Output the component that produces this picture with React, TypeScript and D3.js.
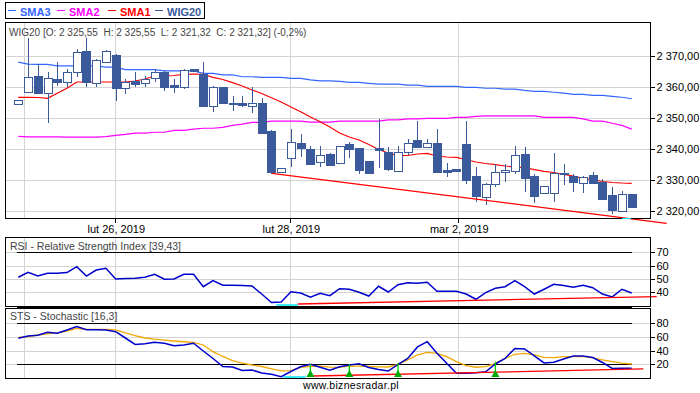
import React from 'react';
import * as d3 from 'd3';

// ---- data ----
const opens = [2354.4, 2358.5, 2363.5, 2358.0, 2362.6, 2361.7, 2364.9, 2371.6, 2361.2, 2368.2, 2370.3, 2359.8, 2362.0, 2361.4, 2362.8, 2364.9, 2360.6, 2360.1, 2365.8, 2364.2, 2354.0, 2359.9, 2354.9, 2354.7, 2353.9, 2354.7, 2345.9, 2332.7, 2337.0, 2341.8, 2340.0, 2335.7, 2338.3, 2335.4, 2341.6, 2340.2, 2336.1, 2340.4, 2338.9, 2333.0, 2339.1, 2342.9, 2340.7, 2342.0, 2333.2, 2333.5, 2341.6, 2331.3, 2324.4, 2328.6, 2332.5, 2333.0, 2338.4, 2331.3, 2325.7, 2325.7, 2332.4, 2331.3, 2329.1, 2331.6, 2329.5, 2325.2, 2320.1, 2325.55];
const highs = [2355.9, 2375.8, 2367.3, 2364.8, 2368.0, 2365.7, 2372.3, 2375.8, 2369.0, 2371.8, 2370.5, 2362.6, 2364.9, 2363.5, 2365.7, 2365.2, 2362.6, 2365.7, 2365.9, 2368.2, 2360.3, 2360.0, 2357.1, 2357.1, 2360.1, 2356.4, 2346.0, 2333.9, 2346.4, 2344.7, 2341.1, 2341.1, 2338.8, 2341.0, 2342.4, 2340.3, 2336.2, 2349.6, 2340.5, 2341.0, 2343.1, 2349.0, 2343.2, 2346.5, 2335.4, 2333.6, 2349.0, 2334.1, 2329.1, 2335.2, 2335.2, 2341.1, 2340.7, 2331.9, 2328.1, 2338.6, 2335.2, 2331.9, 2331.4, 2332.5, 2330.2, 2327.8, 2326.5, 2325.55];
const lows = [2354.3, 2358.0, 2358.0, 2348.3, 2360.3, 2360.1, 2363.1, 2360.1, 2360.1, 2368.0, 2355.5, 2357.7, 2360.1, 2360.1, 2361.7, 2358.8, 2358.2, 2359.4, 2365.2, 2354.0, 2352.0, 2354.6, 2352.3, 2353.6, 2351.7, 2344.8, 2331.8, 2332.6, 2334.1, 2337.5, 2335.2, 2334.3, 2334.8, 2335.4, 2337.0, 2331.9, 2332.2, 2333.8, 2333.0, 2333.0, 2338.1, 2340.5, 2340.5, 2332.7, 2331.1, 2332.9, 2328.7, 2322.8, 2321.9, 2327.6, 2329.5, 2331.8, 2326.2, 2322.5, 2325.7, 2322.8, 2328.4, 2326.2, 2325.9, 2329.1, 2324.0, 2319.0, 2319.6, 2321.32];
const closes = [2355.8, 2363.1, 2358.2, 2362.8, 2361.7, 2364.9, 2371.2, 2361.5, 2368.7, 2371.6, 2359.8, 2361.5, 2361.0, 2362.5, 2364.9, 2360.1, 2360.1, 2365.5, 2365.3, 2354.0, 2359.9, 2354.7, 2354.4, 2354.1, 2354.9, 2345.3, 2332.7, 2333.8, 2342.4, 2340.2, 2335.2, 2338.1, 2334.8, 2341.0, 2339.9, 2333.2, 2332.2, 2339.7, 2333.5, 2339.1, 2342.0, 2340.5, 2341.8, 2332.7, 2332.7, 2333.0, 2330.0, 2324.9, 2328.6, 2332.5, 2333.2, 2338.1, 2330.7, 2324.9, 2328.1, 2332.2, 2331.8, 2329.5, 2331.1, 2329.1, 2324.0, 2320.3, 2325.5, 2321.32];

const sma1 = [2356.68, 2356.68, 2356.61, 2356.35, 2357.97, 2359.58, 2361.61, 2361.61, 2361.61, 2361.61, 2361.61, 2361.61, 2361.94, 2362.58, 2363.55, 2363.55, 2363.71, 2364.10, 2364.19, 2364.10, 2363.13, 2362.42, 2361.39, 2360.32, 2359.03, 2357.90, 2356.55, 2355.16, 2353.55, 2352.03, 2350.32, 2348.81, 2347.10, 2345.16, 2343.87, 2342.90, 2341.45, 2339.84, 2338.71, 2337.84, 2337.90, 2338.39, 2338.61, 2337.74, 2337.42, 2337.32, 2336.61, 2335.81, 2335.32, 2334.94, 2334.52, 2334.19, 2333.97, 2333.32, 2332.81, 2332.42, 2331.84, 2331.29, 2330.55, 2330.10, 2329.52, 2329.19, 2329.03, 2328.94];
const sma2 = [2344.1, 2343.9, 2343.9, 2343.9, 2343.9, 2343.8, 2343.8, 2343.8, 2343.8, 2344.0, 2344.4, 2344.7, 2345.1, 2345.1, 2345.4, 2345.4, 2346.0, 2346.0, 2346.4, 2346.7, 2346.7, 2347.0, 2347.6, 2348.0, 2348.6, 2348.6, 2349.0, 2349.0, 2349.0, 2349.0, 2348.7, 2348.7, 2348.7, 2349.0, 2349.0, 2349.0, 2349.0, 2349.0, 2349.4, 2349.4, 2349.7, 2349.7, 2349.9, 2349.9, 2349.9, 2350.2, 2350.2, 2350.5, 2350.7, 2350.7, 2350.7, 2350.7, 2350.7, 2350.7, 2350.2, 2350.2, 2350.2, 2350.2, 2349.7, 2349.0, 2349.0, 2348.3, 2347.6, 2346.4];
const sma3 = [2368.0, 2367.4, 2367.3, 2367.3, 2366.8, 2366.8, 2366.8, 2366.8, 2366.8, 2366.4, 2366.4, 2365.6, 2365.6, 2365.6, 2365.6, 2365.2, 2365.2, 2365.2, 2365.2, 2364.4, 2364.4, 2363.9, 2363.9, 2363.3, 2363.3, 2363.1, 2363.1, 2363.1, 2362.8, 2362.8, 2362.3, 2362.0, 2362.0, 2361.8, 2361.5, 2361.5, 2361.2, 2360.9, 2360.9, 2360.9, 2360.6, 2360.6, 2360.2, 2360.2, 2360.2, 2360.2, 2359.9, 2359.9, 2359.6, 2359.6, 2359.3, 2359.3, 2358.9, 2358.6, 2358.6, 2358.3, 2358.0, 2357.6, 2357.6, 2357.3, 2357.3, 2357.0, 2356.7, 2356.2];

const rsi = [51.25, 55, 52.2, 54.25, 54.25, 54.8, 59.2, 52.2, 56.7, 58, 50, 50.3, 50.5, 51.25, 53.5, 49.75, 50, 53.5, 53.5, 44.2, 48.7, 45.25, 45.25, 45.1, 44.7, 38.7, 32.35, 32.7, 40.45, 39.5, 36.25, 39.25, 37.45, 42.7, 42.3, 40, 37.2, 44.5, 40.2, 45.7, 47.2, 46.75, 47.5, 40.75, 40.75, 40.75, 38.7, 34.75, 39.7, 43, 44.2, 48.7, 44.2, 38.7, 42.25, 46, 45.1, 43.75, 45.25, 43.45, 38.7, 36.5, 42.25, 39.43];
const stochK = [58.1, 61.5, 62.5, 66.9, 65.4, 70.2, 75.4, 70.7, 70.7, 70.2, 67.8, 58.5, 49.0, 50.0, 52.2, 50.8, 47.3, 48.3, 50.8, 39.5, 28.5, 16.8, 16.1, 11, 11.7, 7.3, 5.4, 1.9, 9.5, 16.5, 20, 15.7, 11.3, 16.5, 19, 20.9, 15.4, 12.4, 10.2, 20, 28.5, 45.4, 53.1, 36.1, 21.5, 6.9, 6.9, 7.8, 9.1, 20.5, 28.8, 43.2, 42.4, 32.2, 22, 23, 27.8, 32.2, 32.2, 30, 22.7, 13.9, 14.2, 14.2];
const stochD = [59.5, 60.7, 62.9, 64.4, 65.9, 68.5, 72.7, 71.2, 71.2, 71.2, 70.5, 66, 62, 58.5, 57, 55.5, 54.1, 53, 52.2, 48.3, 38.5, 31.5, 25.5, 21.8, 19, 16.8, 13.5, 10.3, 10.7, 15.5, 17.2, 17.5, 16, 15.5, 17.6, 17.5, 16.8, 16.2, 16.1, 20, 26.3, 33.7, 37.6, 36.1, 31.2, 23.9, 18, 15.7, 16.5, 21.5, 28.8, 34.7, 36.1, 33.7, 30.3, 29.7, 31.2, 31.2, 31.2, 29.5, 26.5, 24, 21.8, 20.5];

const gridIdx = [0.616, 9.963, 27.94, 45.19];
const xTickLabels = ['', 'lut 26, 2019', 'lut 28, 2019', 'mar 2, 2019'];
const priceTicks = [2320, 2330, 2340, 2350, 2360, 2370];
const rsiTicks = [40, 50, 60, 70];
const rsiRefLevels = [70, 30];
const stsTicks = [20, 40, 60, 80];
const stsRefLevels = [80, 20];
const refLineIdx = [-0.17, 63];

const priceTrendIdx = [26.03, 66.6];
const priceTrendVal = [2332.16, 2316.03];
const priceMarkIdx = [62.0, 62.9];
const rsiTrendIdx = [28.7, 65.57];
const rsiTrendVal = [31.2, 36.8];
const rsiMarkIdx = [26.5, 28.7];
const stsTrendIdx = [30.3, 64.2];
const stsTrendVal = [2.9, 13.2];
const stsMarkIdx = [27.2, 29.5];
const buySignalIdx = [30, 34, 39, 49];
const buySignalTop = [20.5, 20, 21.5, 23.8];

const legendNames = ['SMA3', 'SMA2', 'SMA1', 'WIG20'];
const legendColors = ['#3366ff', '#ff00ff', '#ff0000', '#3a5a9b'];
const legendX = [8, 57, 108, 155];

const titleText = 'WIG20 [O: 2 325,55  H: 2 325,55  L: 2 321,32  C: 2 321,32] (-0,2%)';

const CANDLE = '#3a5a9b';
const GRID = '#d3d3d3';
const FONT = '"Liberation Sans", Arial, sans-serif';

const locale = d3.formatLocale({ decimal: ',', thousands: ' ', grouping: [3], currency: ['', ''] });
const fmtPrice = locale.format(',.2f');

export default function App() {
  const x = d3.scaleLinear().domain([0, 63]).range([18.3, 631.7]);
  const yP = d3.scaleLinear().domain([2320, 2370]).range([211, 56]);
  const yR = d3.scaleLinear().domain([30, 70]).range([305.6, 252.3]);
  const yS = d3.scaleLinear().domain([0, 80]).range([378, 323.3]);

  const L = 5.5, R = 650.5;
  const main = { top: 22.5, bottom: 218.5 };
  const rsiP = { top: 237.5, bottom: 306.5 };
  const stsP = { top: 308.5, bottom: 378.5 };

  const mk = (ys: d3.ScaleLinear<number, number>) =>
    d3.line<number>().x((_, i) => x(i)).y((d) => ys(d));
  const lineP = mk(yP);
  const lineR = mk(yR);
  const lineS = mk(yS);

  const vGrid = (p: { top: number; bottom: number }) =>
    gridIdx.map((g, i) => (
      <line key={'vg' + i} x1={Math.round(x(g)) + 0.5} x2={Math.round(x(g)) + 0.5} y1={p.top} y2={p.bottom} stroke={GRID} />
    ));

  const rightAxis = (ticks: number[], ys: (v: number) => number, fmt: (v: number) => string, p: { top: number; bottom: number }) => (
    <g>
      <line x1={R} x2={R} y1={p.top} y2={p.bottom} stroke="#000" />
      {ticks.map((t) => (
        <g key={'t' + t}>
          <line x1={R} x2={R + 4} y1={Math.round(ys(t)) + 0.5} y2={Math.round(ys(t)) + 0.5} stroke="#000" />
          <text x={R + 6} y={ys(t) + 4} fontSize={11} fontFamily={FONT} fill="#000">{fmt(t)}</text>
        </g>
      ))}
    </g>
  );

  return (
    <div style={{ position: 'absolute', left: 0, top: 0 }}>
      <svg width={700} height={393} style={{ display: 'block', background: '#fff' }}>
        {/* legend */}
        <rect x={5.5} y={2.5} width={199} height={16} fill="#fff" stroke="#000" />
        {legendNames.map((n, i) => (
          <g key={n}>
            <line x1={legendX[i]} x2={legendX[i] + 8} y1={10.5} y2={10.5} stroke={legendColors[i]} />
            <text x={legendX[i] + 12} y={15.5} fontSize={11} fontWeight="bold" fontFamily={FONT} fill={legendColors[i]}>{n}</text>
          </g>
        ))}

        {/* ===== main panel ===== */}
        <g shapeRendering="crispEdges">
          {priceTicks.map((t) => (
            <line key={'hg' + t} x1={L} x2={R} y1={Math.round(yP(t)) + 0.5} y2={Math.round(yP(t)) + 0.5} stroke={GRID} />
          ))}
          {vGrid(main)}
        </g>
        <text x={9} y={35.5} fontSize={10} fontFamily={FONT} fill="#444" style={{ whiteSpace: 'pre' }}>{titleText}</text>
        <g fill="none" strokeWidth={1.2}>
          <path d={lineP(sma3) || ''} stroke="#3366ff" />
          <path d={lineP(sma2) || ''} stroke="#ff00ff" />
          <path d={lineP(sma1) || ''} stroke="#ff0000" />
        </g>
        <g shapeRendering="crispEdges">
          {closes.map((c, i) => {
            const o = opens[i];
            const cx = Math.round(x(i)) + 0.5;
            const top = Math.round(yP(Math.max(o, c))) + 0.5;
            const bot = Math.round(yP(Math.min(o, c))) + 0.5;
            const down = c < o;
            return (
              <g key={'c' + i}>
                <line x1={cx} x2={cx} y1={yP(highs[i])} y2={yP(lows[i])} stroke={CANDLE} />
                <rect x={cx - 4} y={top} width={8} height={Math.max(1, bot - top)} fill={down ? CANDLE : '#fff'} stroke={CANDLE} />
              </g>
            );
          })}
        </g>
        <line x1={x(priceTrendIdx[0])} y1={yP(priceTrendVal[0])} x2={x(priceTrendIdx[1])} y2={yP(priceTrendVal[1])} stroke="#ff0000" strokeWidth={1.2} />
        <g shapeRendering="crispEdges">
          <rect x={L} y={main.top} width={R - L} height={main.bottom - main.top} fill="none" stroke="#000" />
          <line x1={x(priceMarkIdx[0])} x2={x(priceMarkIdx[1])} y1={main.bottom} y2={main.bottom} stroke="#00e5ff" strokeWidth={1.5} />
          {rightAxis(priceTicks, yP, (v) => fmtPrice(v), main)}
          {gridIdx.map((g, i) =>
            xTickLabels[i] ? (
              <g key={'xl' + i}>
                <line x1={Math.round(x(g)) + 0.5} x2={Math.round(x(g)) + 0.5} y1={main.bottom} y2={main.bottom + 4} stroke="#000" />
                <text x={x(g) + 1} y={233} textAnchor="middle" fontSize={11} fontFamily={FONT} fill="#000">{xTickLabels[i]}</text>
              </g>
            ) : null
          )}
        </g>

        {/* ===== RSI panel ===== */}
        <g shapeRendering="crispEdges">
          {rsiTicks.map((t) => (
            <line key={'rg' + t} x1={L} x2={R} y1={Math.round(yR(t)) + 0.5} y2={Math.round(yR(t)) + 0.5} stroke={GRID} />
          ))}
          {vGrid(rsiP)}
          {rsiRefLevels.map((lv) => (
            <line key={'rr' + lv} x1={x(refLineIdx[0])} x2={x(refLineIdx[1])} y1={Math.round(yR(lv)) + 0.5} y2={Math.round(yR(lv)) + 0.5} stroke="#000" strokeWidth={lv === 30 ? 2 : 1} />
          ))}
        </g>
        <text x={10} y={249.5} fontSize={10.5} fontFamily={FONT} fill="#444">RSI - Relative Strength Index [39,43]</text>
        <path d={lineR(rsi) || ''} fill="none" stroke="#0000cc" strokeWidth={1.5} />
        <line x1={x(rsiMarkIdx[0])} x2={x(rsiMarkIdx[1])} y1={305} y2={305} stroke="#00e5ff" strokeWidth={1.5} />
        <line x1={x(rsiTrendIdx[0])} y1={yR(rsiTrendVal[0])} x2={x(rsiTrendIdx[1])} y2={yR(rsiTrendVal[1])} stroke="#ff0000" strokeWidth={1.3} />
        <g shapeRendering="crispEdges">
          <rect x={L} y={rsiP.top} width={R - L} height={rsiP.bottom - rsiP.top} fill="none" stroke="#000" />
          {rightAxis(rsiTicks, yR, (v) => String(v), rsiP)}
        </g>

        {/* ===== STS panel ===== */}
        <g shapeRendering="crispEdges">
          {stsTicks.map((t) => (
            <line key={'sg' + t} x1={L} x2={R} y1={Math.round(yS(t)) + 0.5} y2={Math.round(yS(t)) + 0.5} stroke={GRID} />
          ))}
          {vGrid(stsP)}
          {stsRefLevels.map((lv) => (
            <line key={'sr' + lv} x1={x(refLineIdx[0])} x2={x(refLineIdx[1])} y1={Math.round(yS(lv)) + 0.5} y2={Math.round(yS(lv)) + 0.5} stroke="#000" />
          ))}
        </g>
        <text x={10} y={320} fontSize={10.5} fontFamily={FONT} fill="#444">STS - Stochastic [16,3]</text>
        <path d={lineS(stochD) || ''} fill="none" stroke="#f0a800" strokeWidth={1.3} />
        <path d={lineS(stochK) || ''} fill="none" stroke="#0000cc" strokeWidth={1.5} />
        <line x1={x(stsTrendIdx[0])} y1={yS(stsTrendVal[0])} x2={x(stsTrendIdx[1])} y2={yS(stsTrendVal[1])} stroke="#ff0000" strokeWidth={1.3} />
        <line x1={x(stsMarkIdx[0])} x2={x(stsMarkIdx[1])} y1={377} y2={377} stroke="#00e5ff" strokeWidth={1.5} />
        {buySignalIdx.map((b, i) => {
          const bx = x(b);
          return (
            <g key={'bs' + i}>
              <line x1={bx} x2={bx} y1={yS(buySignalTop[i])} y2={376} stroke="#00cc00" strokeWidth={1.3} />
              <path d={`M${bx - 4},377 L${bx + 4},377 L${bx},370 Z`} fill="#00aa00" />
            </g>
          );
        })}
        <g shapeRendering="crispEdges">
          <rect x={L} y={stsP.top} width={R - L} height={stsP.bottom - stsP.top} fill="none" stroke="#000" />
          {rightAxis(stsTicks, yS, (v) => String(v), stsP)}
        </g>

        <text x={351} y={389} textAnchor="middle" fontSize={10.5} fontFamily={FONT} fill="#000" letterSpacing={0.3}>www.biznesradar.pl</text>
      </svg>
    </div>
  );
}
